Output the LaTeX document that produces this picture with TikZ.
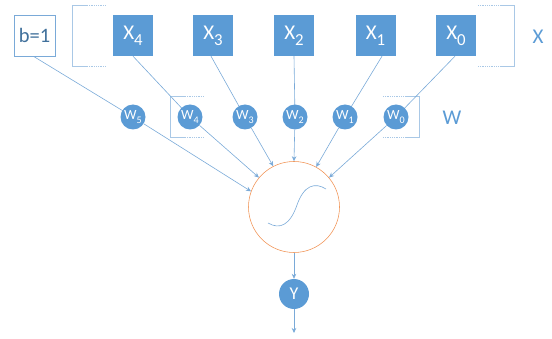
\documentclass[tikz,border=0pt]{standalone}
\usepackage{fontspec}
\setmainfont{Carlito}
\usetikzlibrary{arrows.meta}
\definecolor{fillblue}{HTML}{5B9BD5}
\definecolor{lineblue}{HTML}{7AAAD8}
\definecolor{brblue}{HTML}{A9C8E6}
\definecolor{txtblue}{HTML}{41719C}
\definecolor{sigorange}{HTML}{F09050}
\newcommand\sbs[1]{\raisebox{-0.3em}{\scalebox{0.8}{#1}}}
\newcommand\sbw[1]{\raisebox{-0.3em}{\scalebox{0.72}{#1}}}
\begin{document}
\begin{tikzpicture}[x=1pt,y=-1pt,
  xbox/.style={rectangle,fill=fillblue,draw=none,minimum width=40pt,minimum height=41pt,inner sep=0pt,text=white,font=\fontsize{21}{24}\selectfont},
  bbox/.style={rectangle,draw=lineblue,line width=0.7pt,fill=white,minimum width=41pt,minimum height=41pt,inner sep=0pt,text=txtblue,font=\fontsize{20.5}{24}\selectfont},
  wnode/.style={circle,fill=fillblue,draw=none,minimum size=25pt,inner sep=0pt,text=white,font=\fontsize{14}{16}\selectfont},
  conn/.style={draw=lineblue,line width=0.6pt},
  arr/.style={conn,-{Stealth[length=5pt,width=4.5pt]}},
  brsolid/.style={draw=brblue,line width=0.8pt},
  brdot/.style={draw=brblue,line width=0.8pt,densely dotted},
  lbl/.style={text=fillblue,font=\fontsize{21}{24}\selectfont}]
\useasboundingbox (0,0) rectangle (552,339);

% brackets
\draw[brsolid] (87,5) -- (72,5) -- (72,66) -- (87,66);
\draw[brdot] (87,5) -- (106,5);
\draw[brdot] (87,66) -- (106,66);
\draw[brsolid] (500,5) -- (514,5) -- (514,66) -- (500,66);
\draw[brdot] (478,5) -- (500,5);
\draw[brdot] (478,66) -- (500,66);
\draw[brsolid] (185,96) -- (170,96) -- (170,137) -- (185,137);
\draw[brdot] (185,96) -- (204,96);
\draw[brdot] (185,137) -- (204,137);
\draw[brsolid] (405,96) -- (419,96) -- (419,137) -- (405,137);
\draw[brdot] (383,96) -- (405,96);
\draw[brdot] (383,137) -- (405,137);

% nodes
\node[bbox] (b) at (34.5,35.5) {b=1};
\node[xbox] (x4) at (133,35.5) {X\sbs{4}};
\node[xbox] (x3) at (213,35.5) {X\sbs{3}};
\node[xbox] (x2) at (294,35.5) {X\sbs{2}};
\node[xbox] (x1) at (375.5,35.5) {X\sbs{1}};
\node[xbox] (x0) at (456,35.5) {X\sbs{0}};

\node[circle,draw=sigorange,line width=0.55pt,minimum size=91pt,inner sep=0pt] (sig) at (294,207) {};
\node[wnode,minimum size=30pt,font=\fontsize{18}{20}\selectfont] (y) at (294,294) {Y};
\coordinate (out) at (294,333);

% connectors X -> W (behind W nodes)
\path[conn] ([xshift=-1pt]b.south) -- (133,117);
\path[conn] (x4.south) -- (190,117);
\path[conn] ([xshift=-2pt]x3.south) -- (245,117);
\path[conn] (x2.south) -- (295,117);
\path[conn] ([xshift=6.5pt]x1.south) -- (345,117);
\path[conn] ([xshift=-1pt]x0.south) -- (396,117);

\node[wnode] (w5) at (133,117) {W\sbw{5}};
\node[wnode] (w4) at (190,117) {W\sbw{4}};
\node[wnode] (w3) at (245,117) {W\sbw{3}};
\node[wnode] (w2) at (295,117) {W\sbw{2}};
\node[wnode] (w1) at (345,117) {W\sbw{1}};
\node[wnode] (w0) at (396,117) {W\sbw{0}};

% W -> sigmoid
\draw[arr] (w5) -- (sig.160);
\draw[arr] (w4) -- (sig.140);
\draw[arr] (w3) -- (sig.117);
\draw[arr] (w2) -- (sig.90);
\draw[arr] (w1) -- (sig.61);
\draw[arr] (w0) -- (sig.40);

% sigmoid curve
\draw[draw=lineblue,line width=0.6pt] (268,223) .. controls (280,230) and (290,225) .. (297,205) .. controls (304,185) and (315,182) .. (326,189);

% output
\draw[arr] (sig.south) -- (y.north);
\draw[arr] (y.south) -- (out);

% labels
\node[lbl] (xl) at (538,37) {X};
\node[lbl] (wl) at (452,118) {W};
\end{tikzpicture}
\end{document}
